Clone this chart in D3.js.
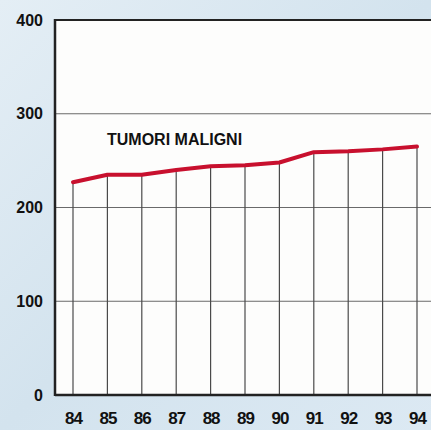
<!DOCTYPE html>
<html><head><meta charset="utf-8">
<script src="https://cdn.jsdelivr.net/npm/d3@7"></script>
<style>body{margin:0;background:#dbe8f1;}svg{display:block;}</style>
</head><body>
<svg id="c" width="431" height="430"></svg>
<script>
const years = ["84","85","86","87","88","89","90","91","92","93","94"];
const values = [227,235,235,240,244,245,248,259,260,262,265];
const yTicks = [0,100,200,300,400];
const seriesLabel = "TUMORI MALIGNI";

(function(){
const svg = d3.select("#c");
const defs = svg.append("defs");
const g = defs.append("linearGradient").attr("id","bg").attr("x1",0).attr("y1",0).attr("x2",1).attr("y2",1);
g.append("stop").attr("offset","0").attr("stop-color","#e4eef5");
g.append("stop").attr("offset","0.5").attr("stop-color","#d3e3ee");
g.append("stop").attr("offset","1").attr("stop-color","#dce9f3");
svg.append("rect").attr("width",431).attr("height",430).attr("fill","url(#bg)");

const pL = 55, pT = 20, pB = 395, pR = 440;
const x = d3.scalePoint().domain(years).range([73, 417]);
const y = d3.scaleLinear().domain([0,400]).range([pB, pT]);

svg.append("rect").attr("x",pL).attr("y",pT).attr("width",pR-pL).attr("height",pB-pT).attr("fill","#fdfdfc");

svg.append("g").selectAll("line").data(yTicks.filter(d=>d>0 && d<400)).join("line")
  .attr("x1",pL).attr("x2",pR).attr("y1",d=>y(d)).attr("y2",d=>y(d))
  .attr("stroke","#6a6a6a").attr("stroke-width",1);

svg.append("g").selectAll("line").data(years).join("line")
  .attr("x1",d=>x(d)).attr("x2",d=>x(d))
  .attr("y1",(d,i)=>y(values[i])).attr("y2",pB)
  .attr("stroke","#4a4a4a").attr("stroke-width",1.2);

svg.append("line").attr("x1",pL).attr("x2",pR).attr("y1",pT).attr("y2",pT).attr("stroke","#222").attr("stroke-width",2);
svg.append("line").attr("x1",pL).attr("x2",pL).attr("y1",pT-1).attr("y2",pB+1).attr("stroke","#222").attr("stroke-width",2.5);
svg.append("line").attr("x1",pL).attr("x2",pR).attr("y1",pB).attr("y2",pB).attr("stroke","#222").attr("stroke-width",2.5);

const font = "Liberation Sans, Arial, sans-serif";
const yAxis = d3.axisLeft(y).tickValues(yTicks).tickSize(0).tickPadding(12);
const ya = svg.append("g").attr("transform",`translate(${pL},0)`).call(yAxis);
ya.select(".domain").remove();
ya.selectAll("text").attr("font-family",font).attr("font-weight","bold")
  .attr("font-size",16).attr("fill","#111");

const xAxis = d3.axisBottom(x).tickSize(0).tickPadding(17);
const xa = svg.append("g").attr("transform",`translate(0,${pB})`).call(xAxis);
xa.select(".domain").remove();
xa.selectAll("text").attr("font-family",font).attr("font-weight","bold")
  .attr("font-size",17).attr("fill","#111").attr("letter-spacing","-1");

const line = d3.line().x((d,i)=>x(years[i])).y(d=>y(d));
svg.append("path").datum(values).attr("d",line).attr("fill","none")
  .attr("stroke","#c8102e").attr("stroke-width",4).attr("stroke-linejoin","round").attr("stroke-linecap","round");

svg.append("text").attr("x",107).attr("y",145).text(seriesLabel)
  .attr("font-family",font).attr("font-weight","bold").attr("font-size",16)
  .attr("fill","#111");
})();
</script>
</body></html>
